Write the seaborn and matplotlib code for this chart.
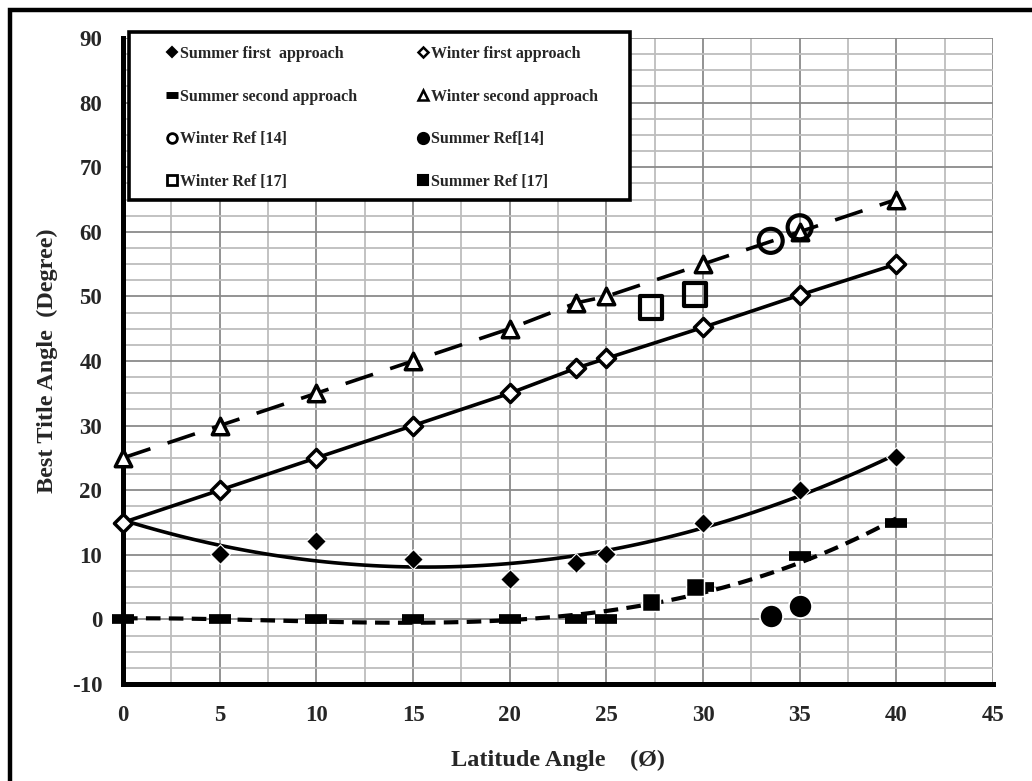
import seaborn as sns
import matplotlib.pyplot as plt
import numpy as np
import pandas as pd
from matplotlib.lines import Line2D
from matplotlib.patches import Rectangle

# latitude values used by the model series
lat = [0, 5, 10, 15, 20, 23.45, 25, 30, 35, 40]
summer_first = [15, 10.1, 12.1, 9.4, 6.3, 8.7, 10.2, 15, 20.1, 25.2]
winter_first = [15, 20, 25, 30, 35, 38.9, 40.4, 45.2, 50.2, 55]
summer_second = [0, 0, 0, 0, 0, 0, 0, 5, 9.8, 15]
winter_second = [25, 30, 35, 40, 45, 49, 50, 55, 60, 65]

# reference points
ref14_x = [33.5, 35]
winter_ref14 = [58.6, 60.7]
summer_ref14 = [0.5, 2.0]
ref17_x = [27.3, 29.6]
winter_ref17 = [48.3, 50.3]
summer_ref17 = [2.7, 5.0]

df = pd.DataFrame({'lat': lat, 'sf': summer_first, 'wf': winter_first,
                   'ss': summer_second, 'ws': winter_second})

sns.set_style('white')
plt.rcParams['font.family'] = ['Liberation Serif', 'DejaVu Serif']
plt.rcParams['font.weight'] = 'bold'
plt.rcParams['axes.unicode_minus'] = False

fig = plt.figure(figsize=(10.32, 7.81), dpi=100)
ax = fig.add_axes([123/1032, 1-684/781, (993-123)/1032, (684-38)/781])

# trend lines
sns.regplot(data=df, x='lat', y='sf', order=2, ci=None, scatter=False, ax=ax,
            line_kws=dict(color='black', lw=2.6))
sns.regplot(data=df, x='lat', y='ss', order=3, ci=None, scatter=False, ax=ax,
            line_kws=dict(color='black', lw=3, dashes=(3.5, 2)))
sns.lineplot(data=df, x='lat', y='wf', color='black', lw=2.6, ax=ax)
sns.lineplot(data=df, x='lat', y='ws', color='black', lw=2.6, ax=ax, dashes=False)
ax.lines[-1].set_dashes((8, 5))

# markers
sns.scatterplot(data=df, x='lat', y='sf', marker='D', s=100, color='black', ax=ax,
                zorder=5, clip_on=False)
sns.scatterplot(data=df, x='lat', y='wf', marker='D', s=85, facecolor='white',
                edgecolor='black', linewidth=2.5, ax=ax, zorder=5, clip_on=False)
sns.scatterplot(data=df, x='lat', y='ss', marker='_', s=260, color='black',
                linewidth=7, ax=ax, zorder=5, clip_on=False)
sns.scatterplot(data=df, x='lat', y='ws', marker='^', s=140, facecolor='white',
                edgecolor='black', linewidth=2.5, ax=ax, zorder=5, clip_on=False)
sns.scatterplot(x=ref14_x, y=winter_ref14, marker='o', s=300, facecolor='none',
                edgecolor='black', linewidth=3, ax=ax, zorder=6)
sns.scatterplot(x=ref14_x, y=summer_ref14, marker='o', s=280, color='black', ax=ax, zorder=6)
sns.scatterplot(x=ref17_x, y=winter_ref17, marker='s', s=260, facecolor='none',
                edgecolor='black', linewidth=3, ax=ax, zorder=6)
sns.scatterplot(x=ref17_x, y=summer_ref17, marker='s', s=180, color='black', ax=ax, zorder=6)

ax.set_xlim(0, 45)
ax.set_ylim(-10, 90)
ax.set_xticks(np.arange(0, 46, 5))
ax.set_xticks(np.arange(0, 46, 2.5), minor=True)
ax.set_yticks(np.arange(-10, 91, 10))
ax.set_yticks(np.arange(-10, 91, 2.5), minor=True)
ax.grid(which='major', color='#8a8a8a', lw=1.3)
ax.grid(which='minor', color='#bdbdbd', lw=1.3)
ax.set_axisbelow(True)
ax.tick_params(which='both', length=0, labelsize=16.5, pad=15)
for lab in ax.get_xticklabels() + ax.get_yticklabels():
    lab.set_fontweight('bold')
for s in ['top', 'right']:
    ax.spines[s].set_visible(False)
for s in ['left', 'bottom']:
    ax.spines[s].set_color('black')
    ax.spines[s].set_linewidth(3.6)

ax.set_xlabel('Latitude Angle    (Ø)', fontsize=17.5, fontweight='bold', labelpad=17)
ax.set_ylabel('Best Title Angle  (Degree)', fontsize=17.5, fontweight='bold', labelpad=10)

# legend (frame drawn separately)
def h(marker, ms, fill='black', mew=1.5):
    return Line2D([], [], ls='none', marker=marker, ms=ms, markerfacecolor=fill,
                  markeredgecolor='black', markeredgewidth=mew)

handles = [h('D', 5), h('_', 9, mew=5), h('o', 7, 'white', 2), h('s', 7, 'white', 2),
           h('D', 5, 'white', 1.8), h('^', 7, 'white', 1.8), h('o', 8), h('s', 7)]
labels = ['Summer first  approach', 'Summer second approach', 'Winter Ref [14]',
          'Winter Ref [17]', 'Winter first approach', 'Winter second approach',
          'Summer Ref[14]', 'Summer Ref [17]']
leg = fig.legend(handles, labels, ncol=2, loc='upper left',
                 bbox_to_anchor=(166/1032, 1-46/781), borderaxespad=0, borderpad=0,
                 frameon=False, prop=dict(size=11.5, weight='bold'), handlelength=0.7,
                 handletextpad=0.15, labelspacing=1.67, columnspacing=3.8)
leg.set_zorder(10)
fig.add_artist(Rectangle((129/1032, 1-200/781), 501/1032, 168/781, transform=fig.transFigure,
                         facecolor='white', lw=2.6, edgecolor='black', zorder=9))

# outer frame
fig.add_artist(Rectangle((10/1032, -0.1), 1.2, 1-10/781 + 0.1, transform=fig.transFigure,
                         fill=False, lw=3.2, edgecolor='black'))

fig.savefig('out.png', dpi=100)
